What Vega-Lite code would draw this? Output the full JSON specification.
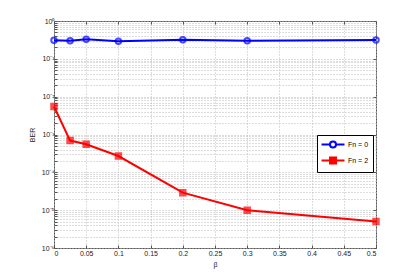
{
  "$schema": "https://vega.github.io/schema/vega-lite/v6.json",
  "autosize": "none",
  "width": 322,
  "height": 227,
  "padding": {"left": 54, "top": 21, "right": 39, "bottom": 31},
  "background": "white",
  "config": {
    "view": {"stroke": "#555", "strokeWidth": 1},
    "font": "Liberation Sans",
    "axis": {
      "labelFont": "Liberation Sans",
      "titleFont": "Liberation Sans",
      "labelFontSize": 7,
      "titleFontSize": 7,
      "labelColor": "#222",
      "titleColor": "#222",
      "titleFontWeight": "normal",
      "domain": false,
      "tickColor": "#555",
      "tickSize": -3,
      "gridColor": "#bbb",
      "gridDash": [1, 2],
      "gridWidth": 1
    }
  },
  "data": {
    "values": [
      {"beta": 0, "ber": 0.31, "series": "Fn = 0"},
      {"beta": 0.025, "ber": 0.30, "series": "Fn = 0"},
      {"beta": 0.05, "ber": 0.33, "series": "Fn = 0"},
      {"beta": 0.1, "ber": 0.29, "series": "Fn = 0"},
      {"beta": 0.2, "ber": 0.32, "series": "Fn = 0"},
      {"beta": 0.3, "ber": 0.30, "series": "Fn = 0"},
      {"beta": 0.5, "ber": 0.315, "series": "Fn = 0"},
      {"beta": 0, "ber": 0.0055, "series": "Fn = 2"},
      {"beta": 0.025, "ber": 0.00069, "series": "Fn = 2"},
      {"beta": 0.05, "ber": 0.00055, "series": "Fn = 2"},
      {"beta": 0.1, "ber": 0.00027, "series": "Fn = 2"},
      {"beta": 0.2, "ber": 0.000029, "series": "Fn = 2"},
      {"beta": 0.3, "ber": 0.00001, "series": "Fn = 2"},
      {"beta": 0.5, "ber": 0.000005, "series": "Fn = 2"}
    ]
  },
  "layer": [
    {
      "encoding": {
        "x": {
          "field": "beta",
          "type": "quantitative",
          "scale": {"domain": [0, 0.5], "nice": false, "zero": false},
          "axis": {
            "title": "β",
            "orient": "bottom",
            "values": [0, 0.05, 0.1, 0.15, 0.2, 0.25, 0.3, 0.35, 0.4, 0.45, 0.5],
            "format": ".2~f",
            "labelPadding": 4,
            "titlePadding": 4
          }
        },
        "y": {
          "field": "ber",
          "type": "quantitative",
          "scale": {"type": "log", "domain": [0.000001, 1], "nice": false},
          "axis": {
            "title": "BER",
            "orient": "left",
            "titlePadding": 6,
            "labelPadding": 3,
            "values": [0.000001, 0.000002, 0.000003, 0.000004, 0.000005, 0.000006, 0.000007, 0.000008, 0.000009,
              0.00001, 0.00002, 0.00003, 0.00004, 0.00005, 0.00006, 0.00007, 0.00008, 0.00009,
              0.0001, 0.0002, 0.0003, 0.0004, 0.0005, 0.0006, 0.0007, 0.0008, 0.0009,
              0.001, 0.002, 0.003, 0.004, 0.005, 0.006, 0.007, 0.008, 0.009,
              0.01, 0.02, 0.03, 0.04, 0.05, 0.06, 0.07, 0.08, 0.09,
              0.1, 0.2, 0.3, 0.4, 0.5, 0.6, 0.7, 0.8, 0.9, 1],
            "labelExpr": "abs(log(datum.value)/LN10 - round(log(datum.value)/LN10)) < 0.000001 ? (round(log(datum.value)/LN10) == 0 ? '10⁰' : '10⁻' + ['', '¹', '²', '³', '⁴', '⁵', '⁶'][-round(log(datum.value)/LN10)]) : ''"
          }
        },
        "color": {
          "field": "series",
          "type": "nominal",
          "scale": {"domain": ["Fn = 0", "Fn = 2"], "range": ["#0000ff", "#ff0000"]},
          "legend": {
            "title": null,
            "orient": "none",
            "legendX": 263,
            "legendY": 114,
            "labelFontSize": 7,
            "labelFont": "Liberation Sans",
            "labelColor": "#000",
            "labelOffset": 16,
            "strokeColor": "#000",
            "fillColor": "white",
            "padding": 4,
            "rowPadding": 1,
            "symbolSize": 81,
            "symbolStrokeWidth": 2,
            "encode": {
              "symbols": {
                "enter": {
                  "shape": {"signal": "datum.value == 'Fn = 0' ? 'M-2.55,0H-0.67M0.67,0H2.55M0.67,0A0.67,0.67 0 1,1 -0.67,0A0.67,0.67 0 1,1 0.67,0' : 'M-2.55,0H2.55M-0.67,-0.67H0.67V0.67H-0.67Z'"},
                  "fill": {"signal": "datum.value == 'Fn = 0' ? 'transparent' : '#ff0000'"}
                },
                "update": {
                  "x": {"value": 12},
                  "shape": {"signal": "datum.value == 'Fn = 0' ? 'M-2.55,0H-0.67M0.67,0H2.55M0.67,0A0.67,0.67 0 1,1 -0.67,0A0.67,0.67 0 1,1 0.67,0' : 'M-2.55,0H2.55M-0.67,-0.67H0.67V0.67H-0.67Z'"},
                  "fill": {"signal": "datum.value == 'Fn = 0' ? 'transparent' : '#ff0000'"}
                }
              }
            }
          }
        }
      },
      "layer": [
        {"mark": {"type": "line", "strokeWidth": 2}},
        {
          "mark": {"type": "point", "strokeWidth": 2, "size": 30},
          "encoding": {
            "shape": {"condition": {"test": "datum.series == 'Fn = 0'", "value": "circle"}, "value": "square"},
            "fill": {"condition": {"test": "datum.series == 'Fn = 0'", "value": "transparent"}, "value": "#ff0000"}
          }
        }
      ]
    },
    {
      "mark": {"type": "point", "opacity": 0},
      "encoding": {
        "x": {
          "field": "beta",
          "type": "quantitative",
          "axis": {"orient": "top", "values": [0, 0.05, 0.1, 0.15, 0.2, 0.25, 0.3, 0.35, 0.4, 0.45, 0.5], "labels": false, "grid": false, "title": null}
        },
        "y": {
          "field": "ber",
          "type": "quantitative",
          "axis": {"orient": "right", "values": [0.000001, 0.00001, 0.0001, 0.001, 0.01, 0.1, 1], "labels": false, "grid": false, "title": null}
        }
      }
    }
  ],
  "resolve": {"axis": {"x": "independent", "y": "independent"}}
}
